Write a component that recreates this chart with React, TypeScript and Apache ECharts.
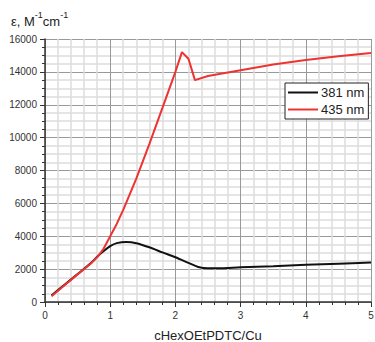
import React, { useEffect, useRef } from "react";
import * as echarts from "echarts";

const xBlack = [0.1, 0.3, 0.5, 0.7, 0.8, 0.9, 1.0, 1.1, 1.25, 1.4, 1.6, 1.8, 2.0, 2.2, 2.35, 2.5, 2.7, 3.0, 3.5, 4.0, 4.5, 5.0];
const yBlack = [400, 1050, 1700, 2350, 2750, 3100, 3400, 3580, 3650, 3580, 3330, 3020, 2720, 2380, 2130, 2050, 2060, 2110, 2180, 2260, 2330, 2400];
const xRed = [0.1, 0.3, 0.5, 0.7, 0.8, 0.9, 1.0, 1.1, 1.2, 1.4, 1.6, 1.8, 2.0, 2.1, 2.2, 2.3, 2.5, 3.0, 3.5, 4.0, 4.5, 5.0];
const yRed = [350, 1020, 1680, 2330, 2720, 3250, 4000, 4750, 5600, 7500, 9600, 11800, 14000, 15200, 14800, 13500, 13750, 14100, 14450, 14720, 14950, 15150];
const seriesNames = ["381 nm", "435 nm"];
const seriesColors = ["#111111", "#ee3333"];
const xName = "cHexOEtPDTC/Cu";

const pairs = (xs: number[], ys: number[]) => xs.map((x, i) => [x, ys[i]]);

export default function App() {
  const ref = useRef<HTMLDivElement>(null);
  useEffect(() => {
    if (!ref.current) return;
    const chart = echarts.init(ref.current, undefined, { renderer: "svg" });
    const font = "Liberation Sans, Arial, sans-serif";
    chart.setOption({
      animation: false,
      backgroundColor: "#ffffff",
      textStyle: { fontFamily: font },
      title: {
        text: "{a|ε, M}{s|-1}{a|cm}{s|-1}",
        left: 6,
        top: 5,
        textStyle: {
          fontWeight: "normal",
          rich: {
            a: { fontSize: 13, color: "#222", fontFamily: font, fontWeight: "normal", lineHeight: 18, verticalAlign: "bottom" },
            s: { fontSize: 9, color: "#222", fontFamily: font, fontWeight: "normal", lineHeight: 18, verticalAlign: "top" },
          },
        },
      },
      legend: {
        data: seriesNames,
        orient: "vertical",
        left: 285,
        top: 83,
        backgroundColor: "#ffffff",
        borderColor: "#222",
        borderWidth: 1,
        borderRadius: 0,
        padding: [3, 4, 3, 3],
        itemGap: 4,
        itemWidth: 30,
        itemHeight: 2,
        icon: "rect",
        textStyle: { fontSize: 13, color: "#222", fontFamily: font, padding: [0, 0, 0, -2] },
      },
      grid: { left: 45, right: 4, top: 39, bottom: 40, containLabel: false, outerBoundsMode: "none" },
      xAxis: {
        type: "value",
        min: 0,
        max: 5,
        interval: 1,
        name: xName,
        nameLocation: "middle",
        nameGap: 27,
        nameTextStyle: { fontSize: 13, color: "#222", fontFamily: font },
        axisLine: { show: true, onZero: false, lineStyle: { color: "#333", width: 1.5 } },
        axisTick: { show: true, inside: false, length: 5, lineStyle: { color: "#333" } },
        minorTick: { show: true, splitNumber: 5, length: 3, lineStyle: { color: "#333" } },
        axisLabel: { fontSize: 10, color: "#333", margin: 8, fontFamily: font },
        splitLine: { show: true, lineStyle: { color: "#999", width: 1 } },
        minorSplitLine: { show: true, lineStyle: { color: "#dcdcdc", width: 1.5 } },
      },
      yAxis: {
        type: "value",
        min: 0,
        max: 16000,
        interval: 2000,
        axisLine: { show: true, onZero: false, lineStyle: { color: "#333", width: 1.5 } },
        axisTick: { show: true, inside: false, length: 5, lineStyle: { color: "#333" } },
        minorTick: { show: true, splitNumber: 4, length: 3, lineStyle: { color: "#333" } },
        axisLabel: { fontSize: 10, color: "#333", margin: 8, fontFamily: font, formatter: (v: number) => String(v) },
        splitLine: { show: true, lineStyle: { color: "#999", width: 1 } },
        minorSplitLine: { show: true, lineStyle: { color: "#dcdcdc", width: 1.5 } },
      },
      series: [
        {
          name: seriesNames[0],
          type: "line",
          data: pairs(xBlack, yBlack),
          showSymbol: false,
          smooth: 0.3,
          color: seriesColors[0],
          lineStyle: { color: seriesColors[0], width: 2 },
          z: 3,
        },
        {
          name: seriesNames[1],
          type: "line",
          data: pairs(xRed, yRed),
          showSymbol: false,
          smooth: false,
          color: seriesColors[1],
          lineStyle: { color: seriesColors[1], width: 2 },
          z: 4,
        },
      ],
    });
    return () => chart.dispose();
  }, []);
  return <div ref={ref} style={{ position: "fixed", left: 0, top: 0, width: 375, height: 342 }} />;
}
